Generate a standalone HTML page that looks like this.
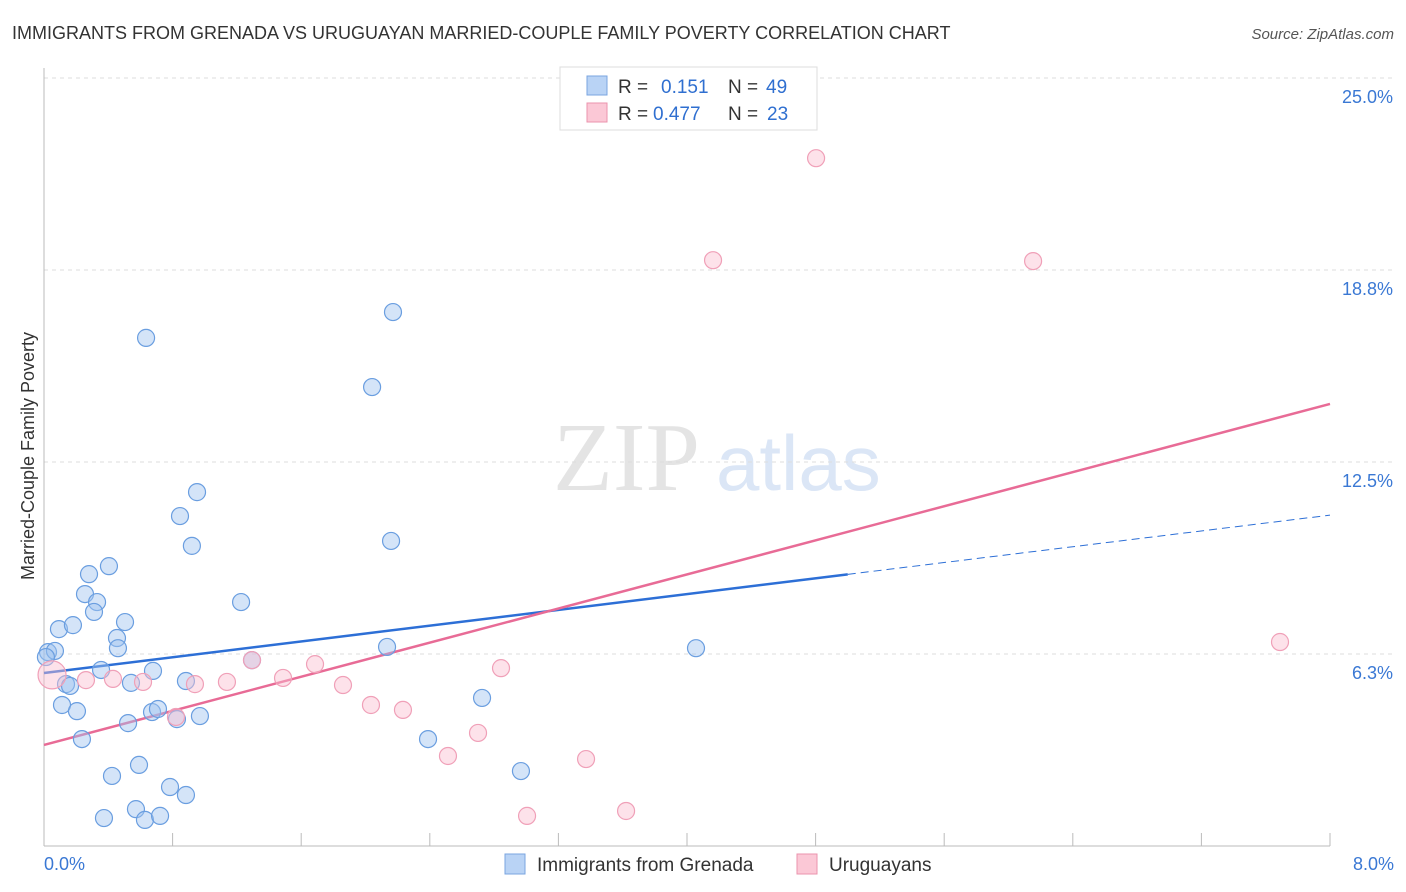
<!DOCTYPE html>
<html><head><meta charset="utf-8"><style>
body{margin:0;background:#fff;font-family:"Liberation Sans",sans-serif;}
svg{display:block}
</style></head><body>
<svg id="chart" width="1406" height="892" xmlns="http://www.w3.org/2000/svg">
<text x="12" y="39" font-size="18" fill="#333">IMMIGRANTS FROM GRENADA VS URUGUAYAN MARRIED-COUPLE FAMILY POVERTY CORRELATION CHART</text>
<text x="1394" y="39" font-size="15" fill="#555" font-style="italic" text-anchor="end">Source: ZipAtlas.com</text>
<g>
<text x="553" y="490" font-family="Liberation Serif,serif" font-size="98" fill="#e4e4e4">ZIP</text>
<text x="716" y="490" font-size="78" fill="#dbe6f6">atlas</text>
</g>
<g id="grid"></g>
<g id="axes"></g>
<g id="trends"></g>
<g id="pts"></g>
<text x="34" y="456" font-size="18" fill="#333" text-anchor="middle" transform="rotate(-90 34 456)">Married-Couple Family Poverty</text>
<g>
<rect x="560" y="67" width="257" height="63" fill="#fff" stroke="#ddd"/>
<rect x="587" y="76" width="20" height="19" fill="#b9d3f5" stroke="#7aa5e0"/>
<rect x="587" y="103" width="20" height="19" fill="#fbc8d6" stroke="#eb93ad"/>
<text x="618" y="93" font-size="19" fill="#333">R =</text>
<text x="661" y="93" font-size="19" fill="#2f6fd0">0.151</text>
<text x="728" y="93" font-size="19" fill="#333">N =</text>
<text x="766" y="93" font-size="19" fill="#2f6fd0">49</text>
<text x="618" y="120" font-size="19" fill="#333">R =</text>
<text x="653" y="120" font-size="19" fill="#2f6fd0">0.477</text>
<text x="728" y="120" font-size="19" fill="#333">N =</text>
<text x="767" y="120" font-size="19" fill="#2f6fd0">23</text>
</g>
<g>
<rect x="505" y="854" width="20" height="20" fill="#b9d3f5" stroke="#7aa5e0"/>
<text x="537" y="871" font-size="19" fill="#333">Immigrants from Grenada</text>
<rect x="797" y="854" width="20" height="20" fill="#fbc8d6" stroke="#eb93ad"/>
<text x="829" y="871" font-size="19" fill="#333">Uruguayans</text>
</g>
</svg>
<script>
const yTicks=[6.25,12.5,18.75,25];
const yTickLabels=["6.3%","12.5%","18.8%","25.0%"];
const xTickCount=10;
const xLabels=["0.0%","8.0%"];
const blueX=[0.635,2.171,2.041,0.952,0.846,0.920,2.159,0.404,0.280,0.255,0.330,0.311,1.226,0.504,0.093,0.180,0.454,0.460,0.025,0.068,0.012,2.134,4.056,1.294,0.355,0.678,0.883,0.541,0.137,0.162,0.112,0.205,0.672,0.709,0.827,0.970,0.523,0.236,2.725,2.389,0.591,0.423,2.967,0.784,0.883,0.572,0.373,0.628,0.722];
const blueY=[16.54,17.38,14.94,11.52,10.74,9.77,9.93,9.11,8.85,8.20,7.94,7.62,7.94,7.29,7.06,7.19,6.77,6.44,6.31,6.35,6.15,6.48,6.44,6.05,5.73,5.70,5.37,5.31,5.27,5.21,4.59,4.39,4.36,4.46,4.13,4.23,4.00,3.48,4.82,3.48,2.64,2.28,2.44,1.92,1.66,1.20,0.91,0.85,0.98];
const pinkX=[4.803,4.162,6.153,7.689,0.050,0.261,0.429,0.616,0.939,1.138,1.487,1.686,1.860,1.294,2.034,2.233,2.843,2.700,2.513,3.372,3.005,3.621,0.821];
const pinkY=[22.39,19.07,19.04,6.64,5.57,5.40,5.44,5.34,5.27,5.34,5.47,5.92,5.24,6.05,4.59,4.43,5.79,3.68,2.93,2.83,0.98,1.14,4.20];
const blueTrend=[5.63,10.77];
const blueSolidEnd=5.0;
const pinkTrend=[3.29,14.39];
const X0=44,X1=1330,Y0=846;
const xs=v=>X0+v/8*(X1-X0);
const ys=v=>Y0-v/6.25*192;
const NS="http://www.w3.org/2000/svg";
function mk(t,a,p){const e=document.createElementNS(NS,t);for(const k in a)e.setAttribute(k,a[k]);p.appendChild(e);return e;}
const grid=document.getElementById('grid'),axes=document.getElementById('axes');
yTicks.forEach((v,i)=>{
 const l=mk('line',{x1:X0,x2:1394,y1:ys(v),y2:ys(v),stroke:'#ddd','stroke-dasharray':'4 4'},grid);
 
 
 const t=mk('text',{x:1393,y:ys(v)+25,'font-size':18,fill:'#3a78d4','text-anchor':'end'},axes);
 t.textContent=yTickLabels[i];
 
 
});
const ya=mk('line',{x1:X0,x2:X0,y1:68,y2:846,stroke:'#bbb'},axes);


const xa=mk('line',{x1:X0,x2:X1,y1:846,y2:846,stroke:'#bbb'},axes);


for(let i=1;i<=xTickCount;i++){
 const tk=mk('line',{x1:xs(i*0.8),x2:xs(i*0.8),y1:833,y2:846,stroke:'#bbb'},axes);
 
 
}
[[xLabels[0],44,'start'],[xLabels[1],1394,'end']].forEach(a=>{
 const t=mk('text',{x:a[1],y:870,'font-size':18,fill:'#3a78d4','text-anchor':a[2]},axes);
 t.textContent=a[0];
 
 
});
const tr=document.getElementById('trends');
const bAt=x=>blueTrend[0]+(blueTrend[1]-blueTrend[0])*x/8;
let e=mk('line',{x1:xs(0),y1:ys(bAt(0)),x2:xs(blueSolidEnd),y2:ys(bAt(blueSolidEnd)),stroke:'#2d6fd6','stroke-width':2.5},tr);


e=mk('line',{x1:xs(blueSolidEnd),y1:ys(bAt(blueSolidEnd)),x2:xs(8),y2:ys(bAt(8)),stroke:'#2d6fd6','stroke-width':1,'stroke-dasharray':'8 5'},tr);


e=mk('line',{x1:xs(0),y1:ys(pinkTrend[0]),x2:xs(8),y2:ys(pinkTrend[1]),stroke:'#e86b96','stroke-width':2.5},tr);


const pts=document.getElementById('pts');
blueX.forEach((x,i)=>{
 const c=mk('circle',{cx:xs(x),cy:ys(blueY[i]),r:8.5,fill:'rgba(160,196,240,0.45)',stroke:'#6a9ee0','stroke-width':1.2},pts);
 
 
});
pinkX.forEach((x,i)=>{
 const c=mk('circle',{cx:xs(x),cy:ys(pinkY[i]),r:i==4?14:8.5,fill:'rgba(250,190,208,0.45)',stroke:'#f0a0b8','stroke-width':1.2},pts);
 
 
});
</script>
</body></html>
